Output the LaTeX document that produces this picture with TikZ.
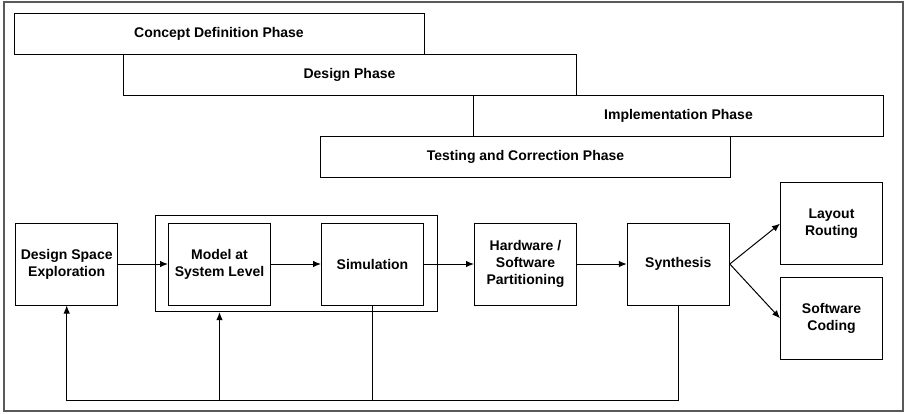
\documentclass[tikz,border=0pt]{standalone}
\usepackage{fontspec}
\setmainfont{Liberation Sans}
\usetikzlibrary{arrows.meta}

\begin{document}
\begin{tikzpicture}[x=1pt,y=-1pt,
    phase/.style={draw, line width=1pt, minimum width=410pt, minimum height=41pt,
      inner sep=0pt, font=\bfseries\fontsize{14}{17}\selectfont},
    block/.style={draw, line width=1pt, minimum width=102pt, minimum height=82pt,
      inner sep=0pt, align=center, font=\bfseries\fontsize{14}{17}\selectfont},
    flow/.style={-{Latex[length=8pt,width=6.5pt]}, line width=1pt}
  ]
  \useasboundingbox (0,0) rectangle (905,413);
  % outer frame
  \draw[black!65, line width=1.3pt] (4,2) rectangle (903,411);

  % phases
  \node[phase] (concept) at (219,34)    {Concept Definition Phase};
  \node[phase, minimum width=453pt] (design) at (349.5,74.5) {Design Phase};
  \node[phase] (impl)    at (678.5,115.5) {Implementation Phase};
  \node[phase] (testing) at (525.5,156.5) {Testing and Correction Phase};

  % flow
  \node[draw, line width=1pt, minimum width=281.7pt, minimum height=95.7pt,
    inner sep=0pt] (sysbox) at (296.8,263.8) {};
  \node[block] (dse)    at (66.7,264)  {Design Space\\Exploration};
  \node[block] (model)  at (219.5,264) {Model at\\System Level};
  \node[block] (sim)    at (372.5,264) {Simulation};
  \node[block] (hwsw)   at (525.5,264) {Hardware /\\Software\\Partitioning};
  \node[block] (synth)  at (678.3,264) {Synthesis};
  \node[block] (layout) at (831.5,223.7) {Layout\\Routing};
  \node[block] (coding) at (831.5,318.3) {Software\\Coding};

  \draw[flow] (dse) -- (model);
  \draw[flow] (model) -- (sim);
  \draw[flow] (sim) -- (hwsw);
  \draw[flow] (hwsw) -- (synth);
  \draw[flow] (synth.east) -- (layout.west);
  \draw[flow] (synth.east) -- (coding.west);

  % feedback
  \coordinate (back) at (66.7,400);
  \draw[flow] (synth.south) |- (back) -- (dse.south);
  \draw[line width=1pt] (sim.south) -- (sim.south |- back);
  \draw[flow] (model.south |- back) -- (model.south |- sysbox.south);
\end{tikzpicture}
\end{document}
